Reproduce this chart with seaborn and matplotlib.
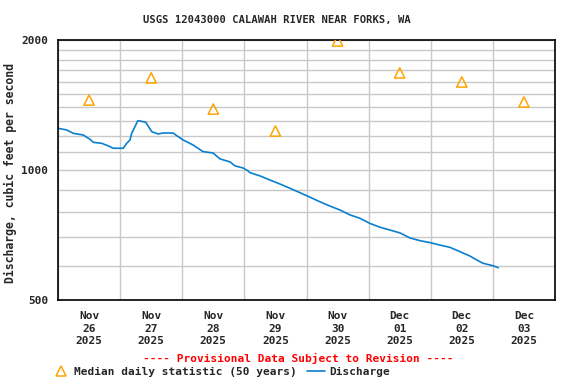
import matplotlib
matplotlib.use("Agg")
import matplotlib.pyplot as plt
import matplotlib.dates as mdates
from matplotlib.lines import Line2D
import seaborn as sns
import pandas as pd
import numpy as np

# ---- data ----
title = "USGS 12043000 CALAWAH RIVER NEAR FORKS, WA"
start = "2025-11-26 00:00"
# discharge: time offset in days from start, value in cfs
q_days = [0.0, 0.14, 0.246, 0.407, 0.515, 0.568, 0.703, 0.81, 0.89, 1.051,
          1.106, 1.159, 1.186, 1.239, 1.276, 1.293, 1.412, 1.508, 1.61, 1.69,
          1.851, 1.911, 2.012, 2.173, 2.334, 2.495, 2.608, 2.769, 2.849, 2.978,
          3.058, 3.09, 3.251, 3.412, 3.573, 3.734, 3.895, 4.056, 4.217, 4.378,
          4.539, 4.7, 4.861, 5.022, 5.183, 5.344, 5.505, 5.666, 5.827, 5.988,
          6.149, 6.31, 6.471, 6.632, 6.739, 6.845, 7.006, 7.087]
q_cfs = [1249, 1238, 1216, 1205, 1178, 1159, 1153, 1137, 1123, 1123,
         1153, 1174, 1216, 1260, 1294, 1301, 1290, 1227, 1212, 1218,
         1218, 1201, 1174, 1143, 1103, 1095, 1061, 1044, 1022, 1011,
         995, 986, 969, 948, 928, 907, 886, 865, 844, 825,
         808, 787, 773, 752, 737, 726, 715, 696, 686, 679,
         670, 662, 647, 632, 619, 608, 600, 594]
median_cfs = [1452, 1634, 1384, 1231, 1990, 1678, 1599, 1437]

t0 = pd.Timestamp(start)
q_df = pd.DataFrame({"time": t0 + pd.to_timedelta(q_days, unit="D"), "cfs": q_cfs})
m_df = pd.DataFrame({"time": t0 + pd.to_timedelta(np.arange(len(median_cfs)) + 0.5, unit="D"),
                     "cfs": median_cfs})

sns.set_style("white")
plt.rcParams["font.family"] = ["DejaVu Sans Mono"]
plt.rcParams["font.weight"] = "bold"
FS = 8

fig = plt.figure(figsize=(5.76, 3.84), dpi=100)
ax = fig.add_axes([58/576, 1-300/384, (555-58)/576, (300-40)/384])

blue = "#0a7fd0"
orange = "#FFA500"

sns.lineplot(data=q_df, x="time", y="cfs", ax=ax, color=blue, linewidth=1.2,
             legend=False)
sns.scatterplot(data=m_df, x="time", y="cfs", ax=ax, marker="^", s=55,
                facecolor="none", edgecolor=orange, linewidth=1.1, legend=False, zorder=5)

ax.set_yscale("log")
ax.set_ylim(500, 2000)
ax.set_xlim(t0, t0 + pd.Timedelta(days=8))

ax.set_yticks([500, 1000, 2000])
ax.set_yticklabels(["500", "1000", "2000"], fontsize=FS, fontweight="bold")
minor_y = [v for v in range(600, 2000, 100) if v != 1000]
ax.set_yticks(minor_y, minor=True)
ax.yaxis.set_minor_formatter(matplotlib.ticker.NullFormatter())

ax.xaxis.set_major_locator(mdates.DayLocator())
ax.xaxis.set_major_formatter(matplotlib.ticker.NullFormatter())
ax.xaxis.set_minor_locator(mdates.HourLocator(byhour=[12]))
ax.xaxis.set_minor_formatter(mdates.DateFormatter("%b\n%d\n%Y"))
for lab in ax.xaxis.get_minorticklabels():
    lab.set_fontsize(FS)
    lab.set_fontweight("bold")
    lab.set_linespacing(1.3)

ax.tick_params(axis="both", which="both", length=0)
ax.tick_params(axis="x", which="minor", pad=8)
ax.tick_params(axis="y", which="major", pad=7)

ax.grid(True, which="major", axis="x", color="#c8c8c8", linewidth=1)
ax.grid(True, which="both", axis="y", color="#c8c8c8", linewidth=1)
ax.set_axisbelow(True)
for s in ax.spines.values():
    s.set_color("black")
    s.set_linewidth(1.2)

ax.set_xlabel("")
ax.set_ylabel("Discharge, cubic feet per second", fontsize=8.3, fontweight="bold")
ax.yaxis.set_label_coords(-(58-17)/497, 0.49)

fig.text(277/576, 1-20/384, title, ha="center", va="center", fontsize=7.6, fontweight="bold")
fig.text(298/576, 1-358/384, "---- Provisional Data Subject to Revision ----",
         ha="center", va="center", fontsize=FS, fontweight="bold", color="red")

handles = [Line2D([], [], marker="^", linestyle="none", markerfacecolor="none",
                  markeredgecolor=orange, markersize=7, markeredgewidth=1.1),
           Line2D([], [], color=blue, linewidth=1.2)]
fig.legend(handles, ["Median daily statistic (50 years)", "Discharge"],
           loc="center left", bbox_to_anchor=(52/576, 1-372/384), ncol=2,
           frameon=False, fontsize=FS, handlelength=1.6, handletextpad=0.4,
           columnspacing=0.9, borderpad=0, borderaxespad=0,
           prop={"weight": "bold", "size": FS})

fig.savefig("out.png", dpi=100)
